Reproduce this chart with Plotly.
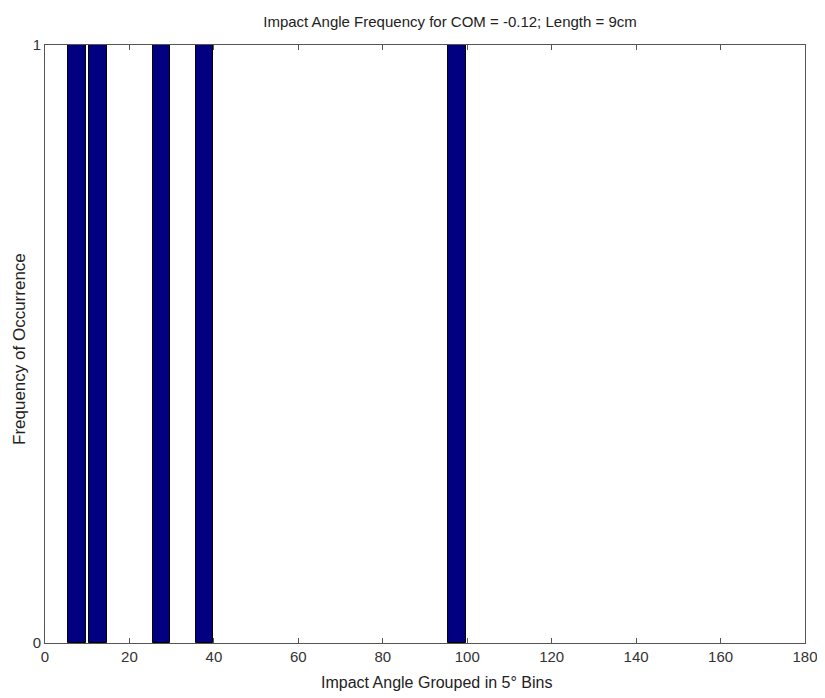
import plotly.graph_objects as go

bin_centers = [7.6, 12.6, 27.6, 37.8, 97.6]
frequencies = [1, 1, 1, 1, 1]
bar_width = 4.2
x_ticks = [0, 20, 40, 60, 80, 100, 120, 140, 160, 180]
y_ticks = [0, 1]

FONT = "Liberation Sans, Arial, Helvetica, sans-serif"
OFF = 8  # page body margin in the browser
W, H = 825 - OFF, 698 - OFF
L, R, T, B = 45 - OFF, 20, 45 - OFF, 55
PW, PH = W - L - R, H - T - B
PLOT_LEFT, PLOT_BOTTOM = 45, 643  # screen px

fig = go.Figure()
fig.add_trace(go.Bar(
    x=bin_centers, y=frequencies, width=bar_width,
    marker=dict(color="#000080", line=dict(color="#000000", width=1)),
))

axis_common = dict(
    showgrid=False, zeroline=False, showline=True, linecolor="#555555", linewidth=1,
    mirror="ticks", ticks="inside", ticklen=5, tickcolor="#555555", automargin=False,
    tickfont=dict(family=FONT, size=15, color="#333333"),
)
fig.update_layout(
    width=W, height=H,
    margin=dict(l=L, r=R, t=T, b=B),
    paper_bgcolor="white", plot_bgcolor="white",
    showlegend=False,
    title=dict(text="Impact Angle Frequency for COM = -0.12; Length = 9cm",
               xref="paper", x=(450 - PLOT_LEFT) / PW, xanchor="center",
               yref="container", y=1 - (22 - OFF) / H, yanchor="middle",
               font=dict(family=FONT, size=15, color="#222222")),
    xaxis=dict(range=[0, 180], tickvals=x_ticks, **axis_common),
    yaxis=dict(range=[0, 1], tickvals=y_ticks, **axis_common),
    bargap=0,
    annotations=[
        dict(text="Impact Angle Grouped in 5° Bins", xref="paper", yref="paper",
             x=(436 - PLOT_LEFT) / PW, y=(PLOT_BOTTOM - 682) / PH, xanchor="center", yanchor="middle",
             showarrow=False, font=dict(family=FONT, size=16, color="#222222")),
        dict(text="Frequency of Occurrence", xref="paper", yref="paper",
             x=(19 - PLOT_LEFT) / PW, y=(PLOT_BOTTOM - 349) / PH, xanchor="center", yanchor="middle",
             textangle=-90, showarrow=False, font=dict(family=FONT, size=17, color="#222222")),
    ],
)
fig.write_html("out.html")
